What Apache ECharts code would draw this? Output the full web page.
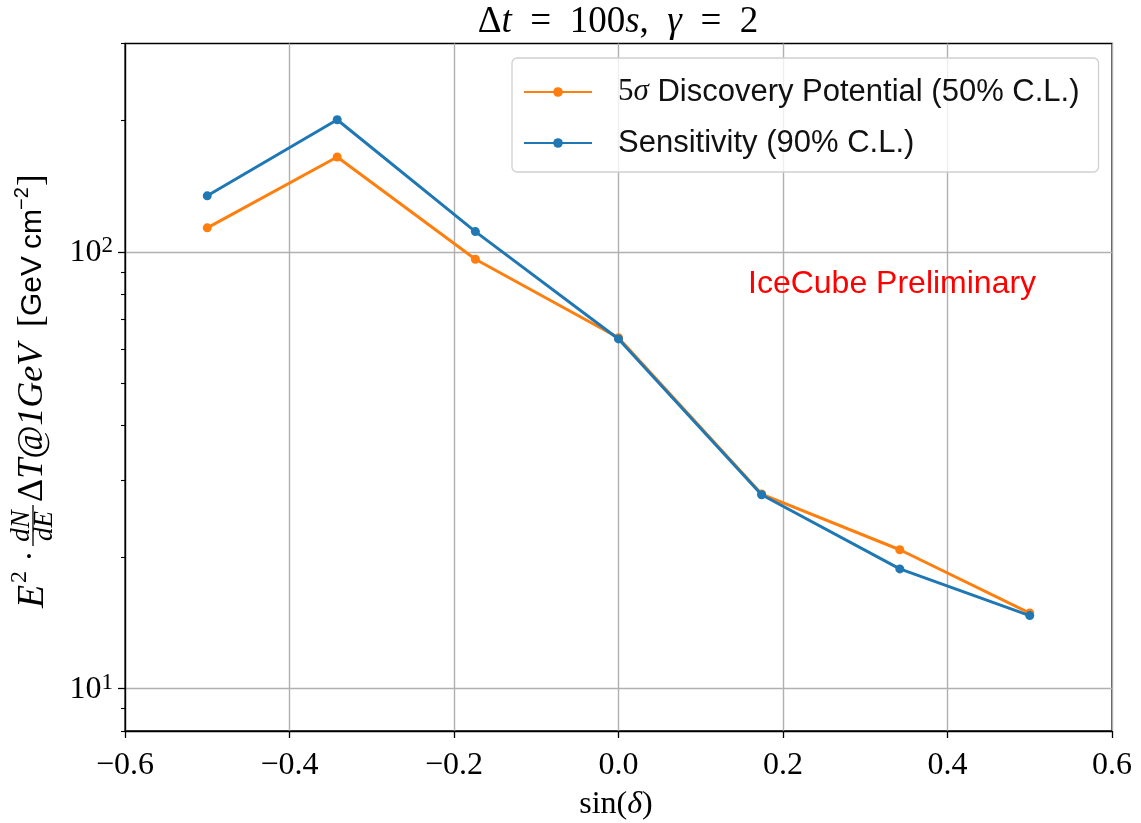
<!DOCTYPE html>
<html>
<head>
<meta charset="utf-8">
<script src="https://cdn.jsdelivr.net/npm/echarts@6/dist/echarts.min.js"></script>
<style>
  html, body { margin: 0; padding: 0; background: #fff; }
  #chart { width: 1141px; height: 823px; }
</style>
</head>
<body>
<div id="chart"></div>
<script>
// sin(declination) of the sampled source positions
const sinDec = [-0.5, -0.342, -0.174, 0, 0.174, 0.342, 0.5];
// flux normalisation E^2 dN/dE ΔT at 1 GeV  [GeV cm^-2]
const discovery = [113.5, 164.9, 96.2, 63.6, 27.9, 20.8, 14.9];
const sensitivity = [134.4, 200.7, 111.3, 63.2, 27.8, 18.8, 14.7];
const seriesNames = ['5σ Discovery Potential (50% C.L.)', 'Sensitivity (90% C.L.)'];
const xTicks = [-0.6, -0.4, -0.2, 0, 0.2, 0.4, 0.6];
const yMajorTicks = [10, 100];
const yMinorTicks = [8, 9, 20, 30, 40, 50, 60, 70, 80, 90, 200, 300];

const ORANGE = '#ff7f0e';
const BLUE = '#1f77b4';
const SERIF = '"Liberation Serif", "DejaVu Serif", serif';
const SANS = '"Liberation Sans", "DejaVu Sans", sans-serif';

const chart = echarts.init(document.getElementById('chart'), null, { renderer: 'canvas' });

function pairs(ys) { return sinDec.map((x, i) => [x, ys[i]]); }

function fmtX(v) {
  const r = Math.abs(v) < 1e-9 ? 0 : v;
  return r.toFixed(1).replace('-', '\u2212');
}
function fmtY(v) {
  const e = Math.log10(v);
  if (Math.abs(e - Math.round(e)) > 1e-6) return '';
  return '{b|10}{s|' + Math.round(e) + '}';
}

const serifItalic = (size) => ({ fontFamily: SERIF, fontStyle: 'italic', fontSize: size, fill: '#000' });

chart.setOption({
  animation: false,
  backgroundColor: '#fff',
  grid: {
    left: 125, right: 29, top: 43.5, bottom: 92,
    show: true, borderColor: '#000', borderWidth: 1.3, backgroundColor: 'transparent'
  },
  xAxis: {
    type: 'value', min: -0.6, max: 0.6, interval: 0.2,
    axisLine: { show: true, lineStyle: { color: '#000', width: 1.3 } },
    axisTick: { show: true, inside: false, length: 7, lineStyle: { color: '#000', width: 1.3 } },
    axisLabel: {
      margin: 19, color: '#000', fontFamily: SERIF, fontSize: 32,
      formatter: fmtX
    },
    splitLine: { show: true, lineStyle: { color: '#b0b0b0', width: 1.4 } }
  },
  yAxis: [
    {
      type: 'log', logBase: 10, min: 8, max: 300,
      axisLine: { show: true, onZero: false, lineStyle: { color: '#000', width: 1.3 } },
      axisTick: { show: true, inside: false, length: 7, customValues: yMajorTicks,
                  lineStyle: { color: '#000', width: 1.3 } },
      axisLabel: {
        show: true, margin: 12, color: '#000', customValues: yMajorTicks,
        formatter: fmtY,
        rich: {
          b: { fontFamily: SERIF, fontSize: 32, color: '#000', lineHeight: 34, verticalAlign: 'bottom' },
          s: { fontFamily: SERIF, fontSize: 23, color: '#000', lineHeight: 23, verticalAlign: 'top' }
        }
      },
      splitLine: { show: true, lineStyle: { color: '#b0b0b0', width: 1.4 } },
      minorTick: { show: false }
    },
    {
      // minor ticks at 2..9 × 10^n
      type: 'log', logBase: 10, min: 8, max: 300, position: 'left',
      axisLine: { show: false, onZero: false },
      axisTick: { show: true, inside: false, length: 4, customValues: yMinorTicks,
                  lineStyle: { color: '#000', width: 1.1 } },
      axisLabel: { show: false },
      splitLine: { show: false }
    }
  ],
  legend: {
    data: seriesNames,
    orient: 'vertical',
    left: 512, top: 58,
    itemWidth: 68, itemHeight: 12, itemGap: 15,
    padding: [16, 19, 11, 11],
    backgroundColor: 'rgba(255,255,255,0.8)',
    borderColor: '#d0d0d0', borderWidth: 1.3, borderRadius: 5,
    selectedMode: false,
    formatter: (name) => name.indexOf('5σ') === 0 ? '{n|5}{m|σ}' + name.slice(2) : name,
    textStyle: {
      fontFamily: SANS, fontSize: 31, color: '#111', lineHeight: 36,
      padding: [0, 0, 0, 21],
      rich: {
        n: { fontFamily: SERIF, fontSize: 31, color: '#111', lineHeight: 36 },
        m: { fontFamily: SERIF, fontStyle: 'italic', fontSize: 31, color: '#111', lineHeight: 36 }
      }
    }
  },
  series: [
    {
      name: seriesNames[0], type: 'line', data: pairs(discovery),
      yAxisIndex: 0, symbol: 'circle', symbolSize: 9, showSymbol: true,
      itemStyle: { color: ORANGE }, lineStyle: { color: ORANGE, width: 3 },
      emphasis: { disabled: true }, z: 3
    },
    {
      name: seriesNames[1], type: 'line', data: pairs(sensitivity),
      yAxisIndex: 0, symbol: 'circle', symbolSize: 9, showSymbol: true,
      itemStyle: { color: BLUE }, lineStyle: { color: BLUE, width: 3 },
      emphasis: { disabled: true }, z: 4
    }
  ],
  graphic: [
    // plot title
    {
      type: 'text', x: 618, y: 22, z: 10,
      style: {
        text: '{u|Δ}{i|t}{u|  =  100}{i|s}{u|,  }{i|γ}{u|  =  2}',
        align: 'center', verticalAlign: 'middle',
        rich: {
          u: { fontFamily: SERIF, fontSize: 37, fill: '#000' },
          i: serifItalic(37)
        }
      }
    },
    // x axis title
    {
      type: 'text', x: 616, y: 805, z: 10,
      style: {
        text: '{u|sin(}{i|δ}{u|)}',
        align: 'center', verticalAlign: 'middle',
        rich: {
          u: { fontFamily: SERIF, fontSize: 32, fill: '#000' },
          i: serifItalic(32)
        }
      }
    },
    // watermark
    {
      type: 'text', x: 748, y: 284, z: 10,
      style: {
        text: 'IceCube Preliminary', fill: '#ff0000',
        font: '32px ' + SANS, align: 'left', verticalAlign: 'middle'
      }
    },
    // y axis title, written along the axis from bottom to top
    {
      type: 'group', x: 33, y: 608, rotation: Math.PI / 2, z: 10,
      children: [
        { type: 'text', x: 0, y: 0, style: { text: 'E', font: 'italic 38px ' + SERIF, align: 'left', verticalAlign: 'middle', fill: '#000' } },
        { type: 'text', x: 25, y: -13, style: { text: '2', font: '24px ' + SERIF, align: 'left', verticalAlign: 'middle', fill: '#000' } },
        { type: 'text', x: 52, y: -2, style: { text: '·', font: '34px ' + SERIF, align: 'center', verticalAlign: 'middle', fill: '#000' } },
        { type: 'text', x: 82, y: -11, style: { text: 'dN', font: 'italic 27px ' + SERIF, align: 'center', verticalAlign: 'middle', fill: '#000' } },
        { type: 'line', shape: { x1: 62, y1: 0, x2: 103, y2: 0 }, style: { stroke: '#000', lineWidth: 1.3 } },
        { type: 'text', x: 82, y: 12, style: { text: 'dE', font: 'italic 27px ' + SERIF, align: 'center', verticalAlign: 'middle', fill: '#000' } },
        {
          type: 'text', x: 106, y: 0,
          style: {
            text: '{u|Δ}{i|T@1GeV}', align: 'left', verticalAlign: 'middle',
            rich: { u: { fontFamily: SERIF, fontSize: 36, fill: '#000' }, i: serifItalic(36) }
          }
        },
        { type: 'text', x: 281, y: 0, style: { text: '[', font: '35px ' + SERIF, align: 'left', verticalAlign: 'middle', fill: '#000' } },
        { type: 'text', x: 292, y: 0, style: { text: 'GeV', font: '30px ' + SANS, align: 'left', verticalAlign: 'middle', fill: '#000' } },
        { type: 'text', x: 359, y: 0, style: { text: 'cm', font: '30px ' + SANS, align: 'left', verticalAlign: 'middle', fill: '#000' } },
        { type: 'text', x: 398, y: -11, style: { text: '\u22122', font: '20px ' + SANS, align: 'left', verticalAlign: 'middle', fill: '#000' } },
        { type: 'text', x: 422, y: 0, style: { text: ']', font: '35px ' + SERIF, align: 'left', verticalAlign: 'middle', fill: '#000' } }
      ]
    }
  ]
});
</script>
</body>
</html>
